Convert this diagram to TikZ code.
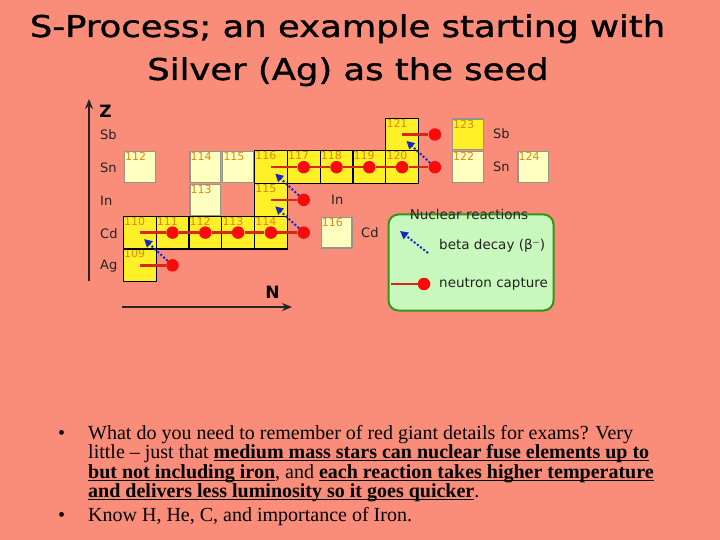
\documentclass[tikz,border=0pt]{standalone}
\usepackage{fontspec}
\usetikzlibrary{arrows.meta}
\newfontfamily\djv{DejaVu Sans}
\newfontfamily\ttlfont[FakeStretch=1.18,FakeBold=1.2]{DejaVu Sans}
\newfontfamily\tms{Liberation Serif}
\definecolor{bgsalmon}{RGB}{250,140,122}
\definecolor{pale}{RGB}{255,255,192}
\definecolor{paleedge}{RGB}{150,150,135}
\definecolor{ybox}{RGB}{255,240,40}
\definecolor{numc}{RGB}{225,135,20}
\definecolor{capred}{RGB}{215,40,20}
\definecolor{dotred}{RGB}{250,10,10}
\definecolor{betablue}{RGB}{20,40,200}
\definecolor{leggreen}{RGB}{200,248,190}
\definecolor{legedge}{RGB}{50,150,25}
\definecolor{labgray}{RGB}{35,35,35}
\newcommand\myul[1]{\setbox0\hbox{#1}\rlap{\rule[-2.8pt]{\wd0}{1.3pt}}\box0}
\newcommand\isonode[5]{\node[#1, label={[numlab]north west:#5}] (#2) at (#3,#4) {};}
\begin{document}
\begin{tikzpicture}[x=1pt,y=-1pt,
  palebox/.style={draw=paleedge, line width=1.2pt, fill=pale, minimum width=30.8pt, minimum height=30.8pt, inner sep=0pt},
  ylwpale/.style={palebox, fill=ybox},
  ylwbox/.style={draw=black, line width=1.2pt, fill=ybox, minimum width=32.8pt, minimum height=32.7pt, inner sep=0pt},
  numlab/.style={anchor=north west, inner sep=1.2pt, text=numc, font=\djv\fontsize{11}{11}\selectfont},
  capdot/.style={circle, fill=dotred, minimum size=12.5pt, inner sep=0pt},
  ncap/.style={draw=capred, line width=2.6pt},
  beta/.style={draw=betablue, line width=2pt, dotted, -{Triangle[length=8pt,width=8pt]}},
  elem/.style={text=labgray, inner sep=0pt, font=\djv\fontsize{13}{13}\selectfont},
  axislab/.style={inner sep=0pt, font=\djv\bfseries\fontsize{17}{18}\selectfont},
  axisline/.style={draw=black!85, line width=1.4pt, -{Stealth[length=10pt,width=8pt]}},
  legtext/.style={text=labgray, inner sep=0pt, font=\djv\fontsize{13.5}{14}\selectfont},
  titletext/.style={inner sep=0pt, font=\ttlfont\fontsize{30}{31}\selectfont},
  bodytext/.style={inner sep=0pt, font=\tms\fontsize{20}{20}\selectfont}
]
\fill[bgsalmon] (0,0) rectangle (720,540);
\useasboundingbox (0,0) rectangle (720,540);

% title
\node[titletext, anchor=base] (title1) at (347.5,37) {S-Process; an example starting with};
\node[titletext, anchor=base] (title2) at (348,80) {Silver (Ag) as the seed};

% axes
\coordinate (zbot) at (89,281);
\coordinate (ztop) at (89,99);
\draw[axisline] (zbot) -- (ztop);
\node[axislab] (zlab) at (105.5,111) {Z};
\coordinate (nleft) at (122,307);
\coordinate (nright) at (292,307);
\draw[axisline] (nleft) -- (nright);
\node[axislab] (nlab) at (272.5,292) {N};

% element labels (left)
\node[elem, anchor=west] (lsb) at (100,135) {Sb};
\node[elem, anchor=west] (lsn) at (100,168) {Sn};
\node[elem, anchor=west] (lin) at (100,201) {In};
\node[elem, anchor=west] (lcd) at (100,234) {Cd};
\node[elem, anchor=west] (lag) at (100,266) {Ag};
% element labels (right)
\node[elem, anchor=west] (rsb) at (493,134) {Sb};
\node[elem, anchor=west] (rsn) at (493,167) {Sn};
\node[elem, anchor=west] (rin) at (331,200) {In};
\node[elem, anchor=west] (rcd) at (361,233) {Cd};

% pale boxes
\isonode{palebox}{sn112}{139.7}{167.2}{112}
\isonode{palebox}{sn114}{205.3}{167.2}{114}
\isonode{palebox}{sn115}{238.1}{167.2}{115}
\isonode{palebox}{in113}{205.3}{199.9}{113}
\isonode{palebox}{cd116}{336.5}{232.6}{116}
\isonode{palebox}{sn122}{467.7}{167.2}{122}
\isonode{palebox}{sn124}{533.3}{167.2}{124}
\isonode{ylwpale}{sb123}{467.7}{134.5}{123}

% yellow boxes (s-process path)
\isonode{ylwbox}{ag109}{139.7}{265.3}{109}
\isonode{ylwbox}{cd110}{139.7}{232.6}{110}
\isonode{ylwbox}{cd111}{172.5}{232.6}{111}
\isonode{ylwbox}{cd112}{205.3}{232.6}{112}
\isonode{ylwbox}{cd113}{238.1}{232.6}{113}
\isonode{ylwbox}{cd114}{270.9}{232.6}{114}
\isonode{ylwbox}{in115}{270.9}{199.9}{115}
\isonode{ylwbox}{sn116}{270.9}{167.2}{116}
\isonode{ylwbox}{sn117}{303.7}{167.2}{117}
\isonode{ylwbox}{sn118}{336.5}{167.2}{118}
\isonode{ylwbox}{sn119}{369.3}{167.2}{119}
\isonode{ylwbox}{sn120}{402.1}{167.2}{120}
\isonode{ylwbox}{sb121}{402.1}{134.5}{121}

% capture dots
\node[capdot] (dag63) at (172.5,265.3) {};
\node[capdot] (dcd63) at (172.5,232.6) {};
\node[capdot] (dcd64) at (205.3,232.6) {};
\node[capdot] (dcd65) at (238.1,232.6) {};
\node[capdot] (dcd66) at (270.9,232.6) {};
\node[capdot] (dcd67) at (303.7,232.6) {};
\node[capdot] (din67) at (303.7,199.9) {};
\node[capdot] (dsn67) at (303.7,167.2) {};
\node[capdot] (dsn68) at (336.5,167.2) {};
\node[capdot] (dsn69) at (369.3,167.2) {};
\node[capdot] (dsn70) at (402.1,167.2) {};
\node[capdot] (dsn71) at (434.9,167.2) {};
\node[capdot] (dsb71) at (434.9,134.5) {};

% neutron captures
\draw[ncap] (ag109.center) -- (dag63);
\draw[ncap] (cd110.center) -- (dcd63);
\draw[ncap] (dcd63) -- (dcd64);
\draw[ncap] (dcd64) -- (dcd65);
\draw[ncap] (dcd65) -- (dcd66);
\draw[ncap] (dcd66) -- (dcd67);
\draw[ncap] (in115.center) -- (din67);
\draw[ncap] (sn116.center) -- (dsn67);
\draw[ncap] (dsn67) -- (dsn68);
\draw[ncap] (dsn68) -- (dsn69);
\draw[ncap] (dsn69) -- (dsn70);
\draw[ncap] (dsn70) -- (dsn71);
\draw[ncap] (sb121.center) -- (dsb71);

% beta decays
\coordinate (tag) at (144,239);
\coordinate (tcd) at (275.2,206.3);
\coordinate (tin) at (275.2,173.6);
\coordinate (tsn) at (406.4,140.9);
\draw[beta] (dag63) -- (tag);
\draw[beta] (dcd67) -- (tcd);
\draw[beta] (din67) -- (tin);
\draw[beta] (dsn71) -- (tsn);

% legend
\node[draw=legedge, line width=2pt, fill=leggreen, rounded corners=10pt, minimum width=165pt, minimum height=96pt] (leg) at (471,262.5) {};
\node[legtext, text=black!85] (legtitle) at (469,214) {Nuclear reactions};
\coordinate (lbs) at (428,253);
\coordinate (lbt) at (400,231);
\draw[beta] (lbs) -- (lbt);
\node[legtext, anchor=west] (lbeta) at (439,246) {beta decay (β⁻)};
\coordinate (lcs) at (391,284);
\node[capdot] (ldot) at (424,284) {};
\draw[ncap] (lcs) -- (ldot);
\node[legtext, anchor=west] (lncap) at (439,284) {neutron capture};

% bullet text
\node[bodytext, anchor=base west] (bul1) at (58,439) {•};
\node[bodytext, anchor=base west] (l1) at (88,439) {What do you need to remember of red giant details for exams? Very};
\node[bodytext, anchor=base west] (l2) at (88,458.5) {little – just that \myul{\textbf{medium mass stars can nuclear fuse elements up to}}};
\node[bodytext, anchor=base west] (l3) at (88,478) {\myul{\textbf{but not including iron}}, and \myul{\textbf{each reaction takes higher temperature}}};
\node[bodytext, anchor=base west] (l4) at (88,497.5) {\myul{\textbf{and delivers less luminosity so it goes quicker}}.};
\node[bodytext, anchor=base west] (bul2) at (58,521) {•};
\node[bodytext, anchor=base west] (l5) at (88,521) {Know H, He, C, and importance of Iron.};
\end{tikzpicture}
\end{document}
